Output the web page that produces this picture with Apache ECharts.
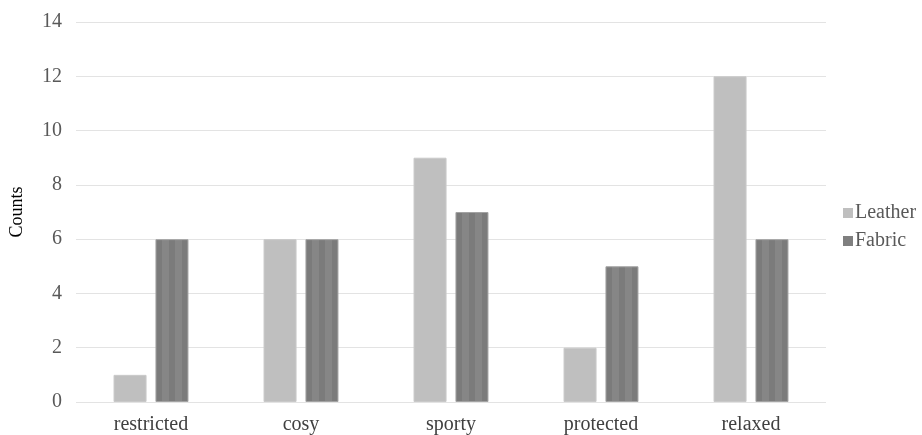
<!DOCTYPE html>
<html><head><meta charset="utf-8">
<script src="https://cdn.jsdelivr.net/npm/echarts@6/dist/echarts.min.js"></script>
<style>html,body{margin:0;padding:0;background:#fff}#c{width:922px;height:435px}</style>
</head><body><div id="c"></div>
<script>
const categories = ['restricted', 'cosy', 'sporty', 'protected', 'relaxed'];
const leather = [1, 6, 9, 2, 12];
const fabric = [6, 6, 7, 5, 6];
const yTicks = { min: 0, max: 14, interval: 2 };

const dark = '#7b7b7b', light = '#868686';
const stops = [];
for (let i = 0; i < 5; i++) {
  const c = i % 2 === 0 ? dark : light;
  stops.push({ offset: i / 5, color: c }, { offset: (i + 1) / 5, color: c });
}
const stripe = { type: 'linear', x: 0, y: 0, x2: 1, y2: 0, colorStops: stops };

const chart = echarts.init(document.getElementById('c'));
chart.setOption({
  animation: false,
  textStyle: { fontFamily: 'Liberation Serif' },
  grid: { left: 72, right: 96, top: 22, bottom: 32 },
  legend: {
    orient: 'vertical', left: 838, top: 198, itemWidth: 10, itemHeight: 10, itemGap: 8,
    icon: 'rect',
    textStyle: { fontFamily: 'Liberation Serif', fontSize: 20, color: '#595959', padding: [0, 0, 0, -3] },
    data: [
      { name: 'Leather', itemStyle: { color: '#bfbfbf', borderWidth: 0 } },
      { name: 'Fabric', itemStyle: { color: '#7f7f7f', borderWidth: 0 } }
    ]
  },
  xAxis: {
    type: 'category', data: categories,
    axisLine: { show: false }, axisTick: { show: false },
    axisLabel: { fontFamily: 'Liberation Serif', fontSize: 20, color: '#404040', margin: 13 }
  },
  yAxis: {
    type: 'value', min: yTicks.min, max: yTicks.max, interval: yTicks.interval,
    name: 'Counts', nameLocation: 'middle', nameGap: 50,
    nameTextStyle: { fontFamily: 'Liberation Serif', fontSize: 18, color: '#000' },
    axisLabel: { fontFamily: 'Liberation Serif', fontSize: 20, color: '#595959', margin: 14 },
    splitLine: { lineStyle: { color: '#e3e3e3', width: 1 } }
  },
  series: [
    { name: 'Leather', type: 'bar', data: leather, barWidth: 33, barGap: '27%',
      itemStyle: { color: '#bfbfbf', borderColor: '#c9c9c9', borderWidth: 1 } },
    { name: 'Fabric', type: 'bar', data: fabric, barWidth: 33,
      itemStyle: { color: stripe, borderColor: '#a3a3a3', borderWidth: 1 } }
  ]
});
</script></body></html>
